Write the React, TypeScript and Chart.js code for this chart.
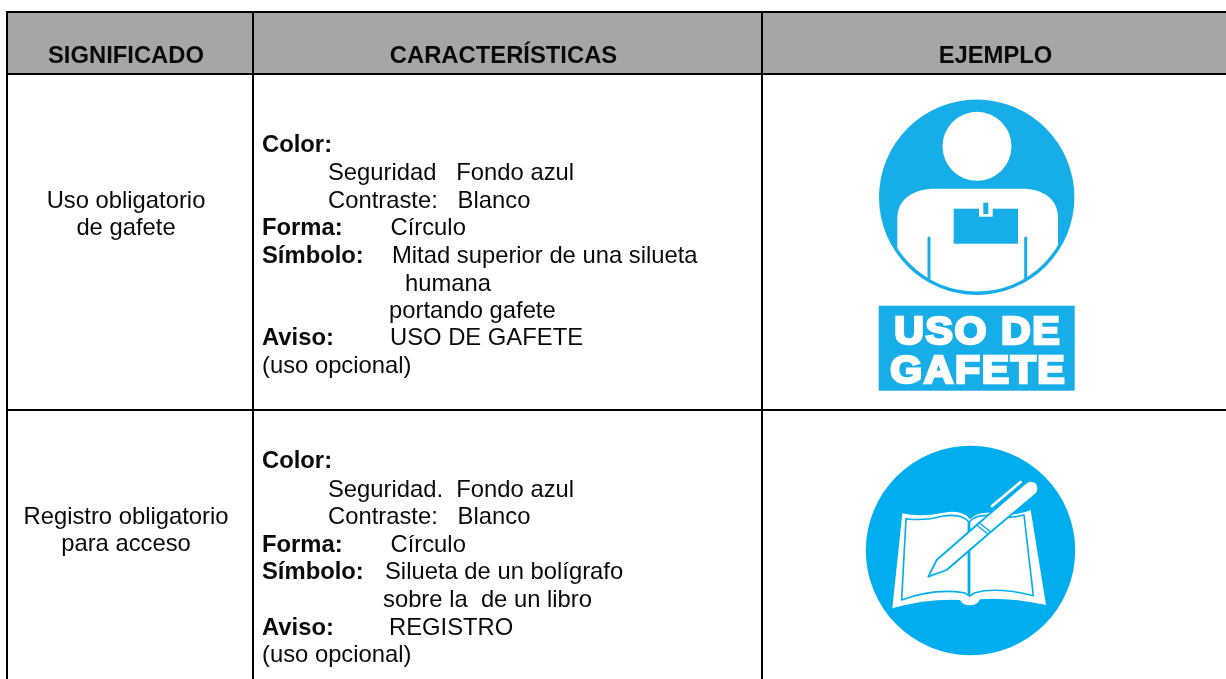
import React, { useEffect, useRef } from "react";
import { Chart, registerables } from "chart.js";

Chart.register(...registerables);

// ---- content ----
const headers = ["SIGNIFICADO", "CARACTERÍSTICAS", "EJEMPLO"];
const meaningRow1 = ["Uso obligatorio", "de gafete"];
const meaningRow2 = ["Registro obligatorio", "para acceso"];
const labelsRow1 = ["Color:", "", "", "Forma:", "Símbolo:", "", "", "Aviso:", ""];
const valuesRow1 = ["", "Seguridad   Fondo azul", "Contraste:   Blanco", "Círculo", "Mitad superior de una silueta", "humana", "portando gafete", "USO DE GAFETE", "(uso opcional)"];
const labelsRow2 = ["Color:", "", "", "Forma:", "Símbolo:", "", "Aviso:", ""];
const valuesRow2 = ["", "Seguridad.  Fondo azul", "Contraste:   Blanco", "Círculo", "Silueta de un bolígrafo", "sobre la  de un libro", "REGISTRO", "(uso opcional)"];
const signWords = ["USO DE", "GAFETE"];

// ---- table rules, on the axes ----
const columnRules = [7, 253, 762];
const rowRules = [12, 74, 410];

const FONT = '"Liberation Sans", Arial, sans-serif';
const SIZE = 23.8;

const tablePlugin = {
  id: "table",
  beforeDraw(chart: any) {
    const { ctx, scales: { x, y } } = chart;
    ctx.save();
    ctx.fillStyle = "#fff";
    ctx.fillRect(0, 0, chart.width, chart.height);
    ctx.fillStyle = "#a6a6a6";
    ctx.fillRect(x.getPixelForValue(7), y.getPixelForValue(12), x.getPixelForValue(1226) - x.getPixelForValue(7), y.getPixelForValue(74) - y.getPixelForValue(12));
    ctx.restore();
  },
  afterDraw(chart: any) {
    const { ctx, scales: { x, y } } = chart;
    const px = (v: number) => x.getPixelForValue(v);
    const py = (v: number) => y.getPixelForValue(v);
    const text = (s: string, vx: number, vy: number, bold = false, align: CanvasTextAlign = "left") => {
      if (!s) return;
      ctx.font = `${bold ? "bold " : ""}${SIZE}px ${FONT}`;
      ctx.textAlign = align;
      ctx.textBaseline = "alphabetic";
      ctx.fillStyle = "#0a0a0a";
      ctx.fillText(s, px(vx), py(vy));
    };
    ctx.save();
    // header
    text(headers[0], 126, 62.5, true, "center");
    text(headers[1], 503.5, 62.5, true, "center");
    text(headers[2], 995.5, 62.5, true, "center");
    // first column
    text(meaningRow1[0], 126, 208, false, "center");
    text(meaningRow1[1], 126, 234.5, false, "center");
    text(meaningRow2[0], 126, 524, false, "center");
    text(meaningRow2[1], 126, 551, false, "center");
    // second column
    const ys1 = [152, 180, 207.5, 235, 262.5, 290.5, 318, 345, 372.5];
    const xs1 = [0, 328, 328, 390.5, 392, 405, 389, 390, 262];
    labelsRow1.forEach((s, i) => text(s, 262, ys1[i], true));
    valuesRow1.forEach((s, i) => text(s, xs1[i], ys1[i]));
    const ys2 = [468, 496.5, 524, 551.5, 579, 607, 634.5, 662];
    const xs2 = [0, 328, 328, 390.5, 385, 383, 389, 262];
    labelsRow2.forEach((s, i) => text(s, 262, ys2[i], true));
    valuesRow2.forEach((s, i) => text(s, xs2[i], ys2[i]));
    drawBadgeSign(ctx);
    drawBookSign(ctx);
    ctx.restore();
  },
};

function drawBadgeSign(ctx: CanvasRenderingContext2D) {
  const BLUE = "#17ade9";
  const cx = 976.7, cy = 197.3, r = 97.7;
  ctx.save();
  ctx.fillStyle = BLUE;
  ctx.beginPath();
  ctx.arc(cx, cy, r, 0, Math.PI * 2);
  ctx.fill();
  // head
  ctx.fillStyle = "#fff";
  ctx.beginPath();
  ctx.arc(977, 146.3, 34.5, 0, Math.PI * 2);
  ctx.fill();
  // body, clipped to the inside of the rim
  ctx.save();
  ctx.beginPath();
  ctx.arc(cx, cy, r - 3.4, 0, Math.PI * 2);
  ctx.clip();
  ctx.beginPath();
  ctx.moveTo(897.3, 300);
  ctx.lineTo(897.3, 218);
  ctx.bezierCurveTo(897.3, 198, 915, 188.7, 935, 188.7);
  ctx.lineTo(1022, 188.7);
  ctx.bezierCurveTo(1042, 188.7, 1058, 198, 1058, 218);
  ctx.lineTo(1058, 300);
  ctx.closePath();
  ctx.fill();
  ctx.restore();
  // arms
  ctx.strokeStyle = BLUE;
  ctx.lineWidth = 3;
  ctx.lineCap = "round";
  ctx.beginPath();
  ctx.moveTo(929, 238);
  ctx.lineTo(929, 280);
  ctx.moveTo(1025.7, 238);
  ctx.lineTo(1025.7, 280);
  ctx.stroke();
  // badge
  ctx.fillStyle = BLUE;
  ctx.fillRect(953.7, 208.7, 64.3, 35);
  ctx.fillStyle = "#fff";
  ctx.fillRect(979, 207, 13.7, 9.7);
  ctx.fillStyle = BLUE;
  ctx.fillRect(983.3, 202.7, 5, 11.3);
  // banner
  ctx.fillRect(878.7, 305.7, 196, 85);
  ctx.fillStyle = "#fff";
  ctx.strokeStyle = "#fff";
  ctx.lineWidth = 2.6;
  ctx.lineJoin = "miter";
  ctx.textBaseline = "alphabetic";
  ctx.textAlign = "left";
  ctx.font = `bold 38px ${FONT}`;
  (ctx as any).letterSpacing = "1.5px";
  const fit = (s: string, left: number, right: number, base: number) => {
    const w = ctx.measureText(s).width - 1.5;
    ctx.save();
    ctx.translate(left + 1.3, base - 1.3);
    ctx.scale((right - left - 2.6) / w, 1);
    ctx.fillText(s, 0, 0);
    ctx.strokeText(s, 0, 0);
    ctx.restore();
  };
  fit(signWords[0], 893, 1061, 345);
  fit(signWords[1], 889, 1066, 384);
  (ctx as any).letterSpacing = "0px";
  ctx.restore();
}

function drawBookSign(ctx: CanvasRenderingContext2D) {
  const BLUE = "#00aeef";
  const X = (z: number) => 820 + z / 3;
  const Y = (z: number) => 430 + z / 3;
  const M = (a: number, b: number) => ctx.moveTo(X(a), Y(b));
  const L = (a: number, b: number) => ctx.lineTo(X(a), Y(b));
  const Q = (a: number, b: number, c: number, d: number) => ctx.quadraticCurveTo(X(a), Y(b), X(c), Y(d));
  ctx.save();
  ctx.lineJoin = "round";
  ctx.lineCap = "round";
  ctx.fillStyle = BLUE;
  ctx.beginPath();
  ctx.arc(970.5, 550.5, 104.7, 0, Math.PI * 2);
  ctx.fill();
  // book, outer silhouette
  ctx.fillStyle = "#fff";
  ctx.beginPath();
  M(247, 250);
  Q(300, 262, 370, 248);
  Q(430, 238, 450, 268);
  Q(470, 245, 520, 248);
  Q(580, 262, 632, 240);
  L(678, 525);
  Q(560, 500, 480, 508);
  Q(472, 526, 450, 526);
  Q(428, 526, 420, 510);
  Q(320, 506, 217, 535);
  ctx.closePath();
  ctx.fill();
  // page outlines
  ctx.strokeStyle = BLUE;
  ctx.lineWidth = 1.6;
  ctx.beginPath();
  M(258, 266);
  Q(310, 274, 370, 258);
  Q(425, 250, 447, 276);
  Q(470, 250, 520, 258);
  Q(570, 268, 612, 255);
  L(640, 497);
  Q(530, 470, 465, 488);
  L(449, 498);
  L(432, 488);
  Q(340, 474, 245, 510);
  ctx.closePath();
  ctx.stroke();
  // spine
  ctx.lineWidth = 2.8;
  ctx.lineCap = "butt";
  ctx.beginPath();
  M(447, 276);
  L(447, 496);
  ctx.stroke();
  ctx.lineCap = "round";
  // pen body
  ctx.fillStyle = "#fff";
  ctx.lineWidth = 1.8;
  ctx.beginPath();
  M(325, 440);
  L(350, 390);
  L(470, 285);
  L(618, 158);
  Q(636, 146, 650, 160);
  Q(660, 176, 650, 190);
  L(505, 312);
  L(380, 420);
  ctx.closePath();
  ctx.fill();
  ctx.stroke();
  // pen collar
  ctx.lineWidth = 1.4;
  ctx.beginPath();
  M(478, 278);
  L(512, 306);
  M(470, 285);
  L(503, 312);
  ctx.stroke();
  // pen clip
  ctx.strokeStyle = "#fff";
  ctx.lineWidth = 2.8;
  ctx.beginPath();
  M(516, 228);
  L(602, 156);
  ctx.stroke();
  ctx.restore();
}

export default function App() {
  const ref = useRef<HTMLCanvasElement | null>(null);
  useEffect(() => {
    document.body.style.margin = "0";
    const chart = new Chart(ref.current as HTMLCanvasElement, {
      type: "scatter",
      data: { datasets: [] },
      plugins: [tablePlugin],
      options: {
        animation: false,
        responsive: false,
        layout: { padding: { left: 6, top: 11, right: 0, bottom: 0 } },
        plugins: { legend: { display: false }, tooltip: { enabled: false } },
        scales: {
          x: {
            type: "linear",
            min: 6,
            max: 1226,
            afterBuildTicks: (s: any) => { s.ticks = columnRules.map((value) => ({ value })); },
            ticks: { display: false },
            border: { display: false },
            grid: { color: "#000", lineWidth: 2, drawTicks: false },
          },
          y: {
            type: "linear",
            reverse: true,
            min: 11,
            max: 679,
            afterBuildTicks: (s: any) => { s.ticks = rowRules.map((value) => ({ value })); },
            ticks: { display: false },
            border: { display: false },
            grid: { color: "#000", lineWidth: 2, drawTicks: false },
          },
        },
      },
    } as any);
    return () => chart.destroy();
  }, []);
  return <canvas ref={ref} width={1226} height={679} style={{ display: "block", position: "absolute", left: 0, top: 0 }} />;
}
